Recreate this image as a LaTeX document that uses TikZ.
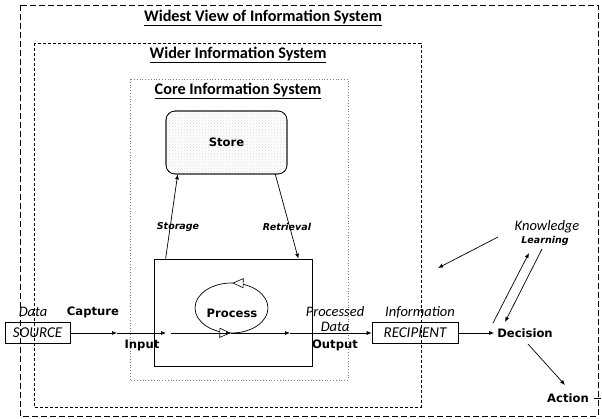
\documentclass[tikz,border=0pt]{standalone}
\usepackage{fontspec}
\setmainfont{Carlito}
\newfontfamily\labelfont{DejaVu Sans}
\usetikzlibrary{arrows.meta,patterns,decorations.markings}

\begin{document}
\begin{tikzpicture}[x=1pt,y=-1pt,
  boxtitle/.style={font=\bfseries\fontsize{16.2}{16}\selectfont},
  widest/.style={draw, line width=0.9pt, dash pattern=on 6pt off 3pt},
  wider/.style={draw, line width=0.8pt, dash pattern=on 3pt off 2pt},
  core/.style={draw=gray, line width=0.8pt, dotted},
  tip/.style={-{Latex[length=5pt,width=4pt]}, line width=0.7pt},
  flowbox/.style={draw, line width=0.6pt, minimum height=21pt, inner sep=0pt,
    font=\itshape\fontsize{15}{15}\selectfont},
  bold/.style={font=\labelfont\bfseries\fontsize{11.6}{12}\selectfont, inner sep=0pt},
  note/.style={font=\itshape\fontsize{14.5}{14.5}\selectfont, inner sep=0pt},
  small/.style={font=\labelfont\bfseries\itshape\fontsize{9.5}{9.5}\selectfont, inner sep=0pt},
  hollow/.tip={Triangle[open,length=11pt,width=10pt,fill=white]}
]
\useasboundingbox (0,0) rectangle (602,419);

% nested system boundaries
\draw[widest] (20,5) rectangle (598,416);
\draw[wider] (34,43) rectangle (421,407);
\draw[core] (130,79) rectangle (348,380);

\node[boxtitle] (twidest) at (263,18) {\underline{Widest View of Information System}};
\node[boxtitle] (twider) at (238,55) {\underline{Wider Information System}};
\node[boxtitle] (tcore) at (238,91) {\underline{Core Information System}};

% store
\node[draw, line width=0.6pt, rounded corners=9pt, fill=gray!5,
  pattern=crosshatch dots, pattern color=gray!30,
  minimum width=121pt, minimum height=63pt] (storebg) at (226.5,142.5) {};
\node[draw, line width=0.6pt, rounded corners=9pt,
  minimum width=121pt, minimum height=63pt, bold] (store) at (226.5,142.5) {Store};

% processing box
\node[draw, line width=0.7pt, minimum width=158pt, minimum height=107pt] (procbox) at (233,312.5) {};

\draw[tip] ([xshift=12pt]procbox.north west) -- ([xshift=12pt]store.south west);
\draw[tip] ([xshift=-12pt]store.south east) -- ([xshift=-14pt]procbox.north east);
\node[small] (storage) at (178,227) {Storage};
\node[small] (retrieval) at (287,227) {Retrieval};

% process cycle
\node[bold] (process) at (232,313) {Process};
\coordinate (cyc) at (231.5,308);
\draw[line width=0.7pt, postaction={decorate}, decoration={markings,
    mark=at position 0.245 with {\arrow[line width=0.6pt]{hollow}},
    mark=at position 0.745 with {\arrow[line width=0.6pt]{hollow}}}]
  (cyc) ellipse [x radius=36.5pt, y radius=25pt];

% main flow
\node[flowbox, minimum width=65pt] (source) at (37.5,333) {SOURCE};
\node[flowbox, minimum width=86pt] (recipient) at (415,333) {RECIPIENT};
\node[bold] (decision) at (525,333) {Decision};
\node[bold] (action) at (568,398) {Action};

\coordinate (c1) at (117,333);
\coordinate (c2) at (166,333);
\coordinate (c3) at (171,333);
\coordinate (c4) at (231,333);
\coordinate (c5) at (290,333);
\draw[tip] (source.east) -- (c1);
\draw[tip] (c1) -- (c2);
\draw[tip] (c3) -- (c4);
\draw[tip] (c4) -- (c5);
\draw[tip] (c5) -- (recipient.west);
\draw[tip] (recipient.east) -- ([xshift=-3pt]decision.west);

\node[note] (data) at (33,312) {Data};
\node[bold] (capture) at (93,312) {Capture};
\node[bold] (input) at (142,345) {Input};
\node[note] (processed) at (335,312) {Processed};
\node[note] (pdata) at (335,327) {Data};
\node[bold] (output) at (335,345) {Output};
\node[note] (information) at (420,312) {Information};

% feedback and action
\node[note] (knowledge) at (547,227) {Knowledge};
\node[small] (learning) at (545,241) {Learning};

\coordinate (k1) at (498,237);
\coordinate (k2) at (438,268);
\coordinate (u1) at (493,323);
\coordinate (u2) at (529,253);
\coordinate (d1) at (542,249);
\coordinate (d2) at (505,322);
\coordinate (a1) at (528,344);
\coordinate (a2) at (565,385);
\coordinate (s1) at (594,398);
\coordinate (s2) at (601,398);
\draw[tip] (k1) -- (k2);
\draw[tip] (u1) -- (u2);
\draw[tip] (d1) -- (d2);
\draw[tip] (a1) -- (a2);
\draw[line width=0.7pt] (s1) -- (s2);
\end{tikzpicture}
\end{document}
